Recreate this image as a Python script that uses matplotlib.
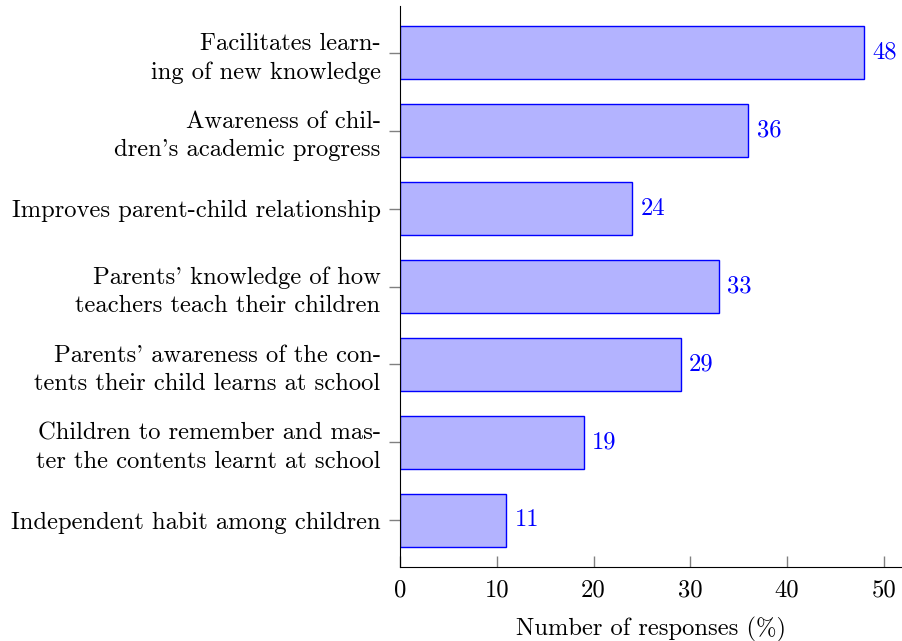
import matplotlib.pyplot as plt

plt.rcParams['font.family'] = 'cmr10'
plt.rcParams['mathtext.fontset'] = 'cm'
plt.rcParams['axes.formatter.use_mathtext'] = True

labels = [
    "Facilitates learn-\ning of new knowledge",
    "Awareness of chil-\ndren's academic progress",
    "Improves parent-child relationship",
    "Parents' knowledge of how\nteachers teach their children",
    "Parents' awareness of the con-\ntents their child learns at school",
    "Children to remember and mas-\nter the contents learnt at school",
    "Independent habit among children",
]
values = [48, 36, 24, 33, 29, 19, 11]
xticks = [0, 10, 20, 30, 40, 50]

fs = 17.7
fig = plt.figure(figsize=(9.03, 6.41), dpi=100)
ax = fig.add_axes([0.443, 0.1155, 0.556, 0.875])

pos = list(range(len(values)))[::-1]
ax.barh(pos, values, height=0.68, color=(0.7, 0.7, 1.0), edgecolor=(0, 0, 1), linewidth=1)
for p, v in zip(pos, values):
    ax.text(v + 0.85, p, str(v), color=(0, 0, 1), va='center', ha='left', fontsize=fs)

ax.set_xlim(0, 51.9)
ax.set_ylim(-0.6, 6.6)
ax.set_yticks(pos)
ax.set_yticklabels(labels, fontsize=fs, linespacing=1.35)
ax.set_xticks(xticks)
ax.set_xticklabels([str(t) for t in xticks], fontsize=fs)
ax.set_xlabel('Number of responses (%)', fontsize=fs, labelpad=11)

ax.spines['top'].set_visible(False)
ax.spines['right'].set_visible(False)
ax.tick_params(axis='y', direction='out', length=8, color='gray', width=1, pad=6)
ax.tick_params(axis='x', direction='in', length=8, color='gray', width=1, pad=9)

fig.savefig('out.png', dpi=100)
